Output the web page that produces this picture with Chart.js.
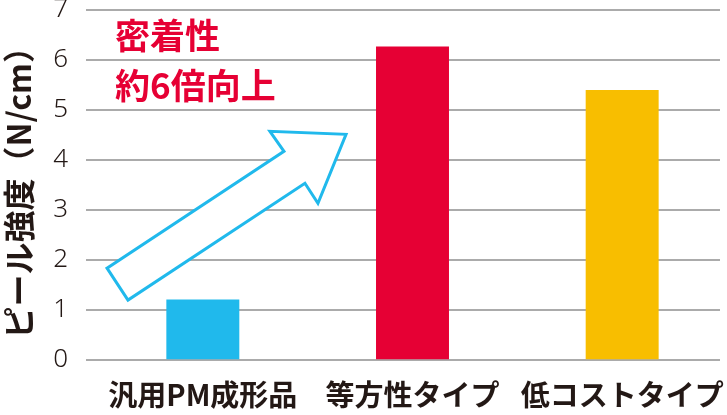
<!DOCTYPE html>
<html>
<head>
<meta charset="utf-8">
<script src="https://cdn.jsdelivr.net/npm/chart.js@4/dist/chart.umd.min.js"></script>
<style>
  html, body { margin: 0; padding: 0; background: #fff; }
  #wrap { width: 727px; height: 415px; position: relative; }
</style>
</head>
<body>
<div id="wrap"><canvas id="peelChart"></canvas></div>
<script>
// ピール強度の比較グラフ

const categories = ['汎用PM成形品', '等方性タイプ', '低コストタイプ'];
const peelValues = [1.2, 6.27, 5.4];
const barColors = ['#20B9EC', '#E60034', '#F8BE00'];
const yTicks = [0, 1, 2, 3, 4, 5, 6, 7];
const noteLines = ['密着性', '約6倍向上'];
// 矢印の輪郭 (カテゴリ位置, 値)
const arrowX = [-0.357, -0.457, 0.387, 0.320, 0.683, 0.549, 0.487];
const arrowY = [1.19, 1.83, 4.17, 4.57, 4.51, 3.13, 3.53];

const textColor = '#231815';
const gridColor = '#ABABAB';

// グリッド線は軸より少し左から描く
const gridPlugin = {
    id: 'customGrid',
    beforeDatasetsDraw(chart) {
        const { ctx, chartArea, scales } = chart;
        ctx.save();
        ctx.strokeStyle = gridColor;
        ctx.lineWidth = 2;
        yTicks.forEach(v => {
            const y = Math.round(scales.y.getPixelForValue(v));
            ctx.beginPath();
            ctx.moveTo(chartArea.left - 12, y);
            ctx.lineTo(chartArea.right - 7, y);
            ctx.stroke();
        });
        ctx.restore();
    }
};

// 矢印と注記
const notePlugin = {
    id: 'note',
    afterDatasetsDraw(chart) {
        const { ctx, scales } = chart;
        const xs = scales.x, ys = scales.y;
        ctx.save();
        ctx.beginPath();
        arrowX.forEach((v, i) => {
            const px = xs.getPixelForValue(v);
            const py = ys.getPixelForValue(arrowY[i]);
            if (i === 0) ctx.moveTo(px, py); else ctx.lineTo(px, py);
        });
        ctx.closePath();
        ctx.fillStyle = '#ffffff';
        ctx.fill();
        ctx.lineWidth = 3;
        ctx.lineJoin = 'miter';
        ctx.strokeStyle = '#20B9EC';
        ctx.stroke();

        ctx.fillStyle = '#E60034';
        ctx.font = 'bold 35px "Noto Sans CJK JP"';
        ctx.textAlign = 'left';
        ctx.textBaseline = 'middle';
        const tx = xs.getPixelForValue(-0.419);
        ctx.fillText(noteLines[0], tx, ys.getPixelForValue(6.48));
        ctx.fillText(noteLines[1], tx, ys.getPixelForValue(5.48));
        ctx.restore();
    }
};

const ctx = document.getElementById('peelChart');
new Chart(ctx, {
    type: 'bar',
    data: {
        labels: categories,
        datasets: [{
            data: peelValues,
            backgroundColor: barColors,
            borderWidth: 0,
            categoryPercentage: 1,
            barPercentage: 0.348
        }]
    },
    options: {
        responsive: true,
        maintainAspectRatio: false,
        animation: false,
        layout: {
            padding: { top: 10, right: 0, left: 0, bottom: 0 }
        },
        plugins: {
            legend: { display: false },
            tooltip: { enabled: false }
        },
        scales: {
            x: {
                grid: { display: false },
                border: { display: false },
                ticks: {
                    color: textColor,
                    font: { family: '"Noto Sans CJK JP"', size: 29, weight: 'bold' },
                    padding: 10,
                    maxRotation: 0
                },
                afterFit(scale) {
                    scale.height = 55.5;
                    scale.paddingLeft = 0;
                    scale.paddingRight = 0;
                }
            },
            y: {
                min: 0,
                max: 7,
                grid: { display: false, drawTicks: false },
                border: { display: false },
                afterBuildTicks(scale) {
                    scale.ticks = yTicks.map(v => ({ value: v }));
                },
                ticks: {
                    color: textColor,
                    font: { family: '"Noto Sans", sans-serif', size: 26, weight: 300 },
                    padding: 30
                },
                title: {
                    display: true,
                    text: 'ピール強度（N/cm）',
                    color: textColor,
                    font: { family: '"Noto Sans CJK JP"', size: 32, weight: 'bold' },
                    padding: { top: 0, bottom: 0 }
                },
                afterFit(scale) {
                    scale.width = 98;
                    scale.paddingTop = 0;
                    scale.paddingBottom = 0;
                }
            }
        }
    },
    plugins: [gridPlugin, notePlugin]
});
</script>
</body>
</html>
